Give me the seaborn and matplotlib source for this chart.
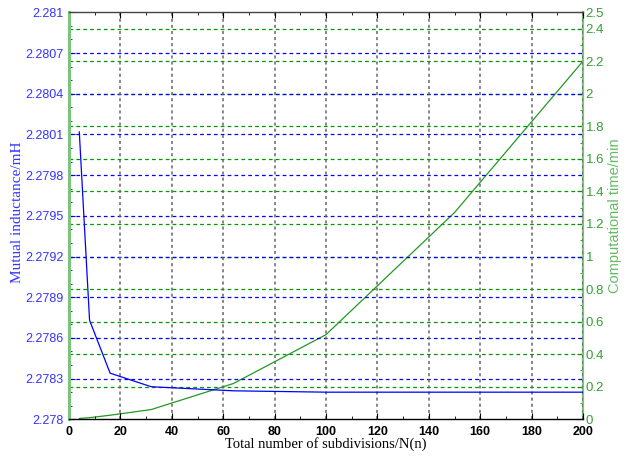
import numpy as np
import pandas as pd
import matplotlib
matplotlib.use("Agg")
import matplotlib.pyplot as plt
import seaborn as sns
from matplotlib.ticker import FixedLocator, MultipleLocator, FuncFormatter

# ---- data ----
n_sub = [4, 8, 16, 32, 64, 100, 150, 200]
inductance = [2.28012, 2.27873, 2.27834, 2.27824, 2.27821, 2.27820, 2.27820, 2.27820]
comp_time = [0.005, 0.01, 0.025, 0.06, 0.22, 0.52, 1.27, 2.2]

x_ticks = [0, 20, 40, 60, 80, 100, 120, 140, 160, 180, 200]
left_ticks = [2.278, 2.2783, 2.2786, 2.2789, 2.2792, 2.2795, 2.2798,
              2.2801, 2.2804, 2.2807, 2.281]
right_ticks = [0, 0.2, 0.4, 0.6, 0.8, 1, 1.2, 1.4, 1.6, 1.8, 2, 2.2, 2.4, 2.5]

xlabel = "Total number of subdivisions/N(n)"
ylabel_left = "Mutual inductance/mH"
ylabel_right = "Computational time/min"

df = pd.DataFrame({"n": n_sub, "L": inductance, "t": comp_time})

sns.set_style("white")
plt.rcParams["font.family"] = ["Liberation Sans", "DejaVu Sans"]

BLUE = "#0000ff"
BLUE_TXT = "#3333ff"
GREEN = "#009900"
GREEN_TXT = "#33a033"
GREEN_SPINE = "#7cc47c"

fig = plt.figure(figsize=(6.31, 4.58), dpi=100)
ax = fig.add_axes([69 / 631, 1 - 419.3 / 458, 514 / 631, 407 / 458])
ax2 = ax.twinx()

# green series + green grid on the back axes
sns.lineplot(data=df, x="n", y="t", ax=ax2, color="#229922", linewidth=0.9)
ax2.set_ylim(0, 2.5)
ax2.yaxis.set_major_locator(FixedLocator(right_ticks))
ax2.yaxis.set_minor_locator(MultipleLocator(0.1))
ax2.yaxis.set_major_formatter(FuncFormatter(lambda v, p: f"{v:g}"))
for v in right_ticks:
    if 0 < v < 2.5:
        ax2.axhline(v, color=GREEN, linestyle=(0, (3, 2.5)), linewidth=0.9, zorder=0)

# blue series on the front axes
ax.set_zorder(ax2.get_zorder() + 1)
ax.patch.set_visible(False)
sns.lineplot(data=df, x="n", y="L", ax=ax, color=BLUE, linewidth=0.9)
ax.set_xlim(0, 200)
ax.set_ylim(2.278, 2.281)
ax.xaxis.set_major_locator(FixedLocator(x_ticks))
ax.xaxis.set_minor_locator(MultipleLocator(10))
ax.yaxis.set_major_locator(FixedLocator(left_ticks))
ax.yaxis.set_minor_locator(MultipleLocator(0.0001))
ax.yaxis.set_major_formatter(FuncFormatter(lambda v, p: f"{v:.4f}".rstrip("0")))
ax.xaxis.set_major_formatter(FuncFormatter(lambda v, p: f"{v:g}"))
for v in left_ticks:
    if 2.278 < v < 2.281:
        ax.axhline(v, color=BLUE, linestyle=(0, (3, 2.5)), linewidth=0.9, zorder=0)
ax.grid(axis="x", color="#666666", linestyle=(0, (2, 2)), linewidth=1.1)
ax.set_axisbelow(True)

# ticks & labels
ax.tick_params(axis="x", which="both", direction="in", top=True, bottom=True,
               colors="black", labelsize=9, pad=5)
ax.tick_params(axis="x", which="major", length=4)
ax.tick_params(axis="x", which="minor", length=2.5)
for lab in ax.get_xticklabels():
    lab.set_fontweight("bold")
ax.tick_params(axis="y", which="both", direction="in", left=True, right=False,
               colors=BLUE, labelcolor=BLUE_TXT, labelsize=9, pad=4)
ax.tick_params(axis="y", which="major", length=4)
ax.tick_params(axis="y", which="minor", length=2)
ax2.tick_params(axis="y", which="both", direction="in", right=True, left=False,
                colors=GREEN, labelcolor=GREEN_TXT, labelsize=9.5, pad=2)
ax2.tick_params(axis="y", which="major", length=4)
ax2.tick_params(axis="y", which="minor", length=2)

# spines
ax.spines["left"].set_color(GREEN_SPINE)
ax.spines["left"].set_linewidth(2.2)
ax.spines["right"].set_visible(False)
ax.spines["top"].set_color("#444444")
ax.spines["top"].set_linewidth(1.0)
ax.spines["bottom"].set_color("black")
ax.spines["bottom"].set_linewidth(1.0)
ax2.spines["right"].set_color(GREEN_SPINE)
ax2.spines["right"].set_linewidth(1.6)
ax2.spines["left"].set_visible(False)
ax2.spines["top"].set_visible(False)
ax2.spines["bottom"].set_visible(False)

serif = ["Liberation Serif", "DejaVu Serif"]
ax.set_xlabel(xlabel, fontsize=10.5, family=serif, color="black")
ax.xaxis.set_label_coords(0.5, -0.044)
ax.set_ylabel(ylabel_left, fontsize=11, family=serif, color=BLUE_TXT)
ax.yaxis.set_label_coords(-0.0875, 0.508)
ax2.set_ylabel(ylabel_right, fontsize=10.5, color="#66bb66", rotation=90)
ax2.yaxis.set_label_coords(1.049, 0.5)

fig.savefig("out.png", dpi=100)
